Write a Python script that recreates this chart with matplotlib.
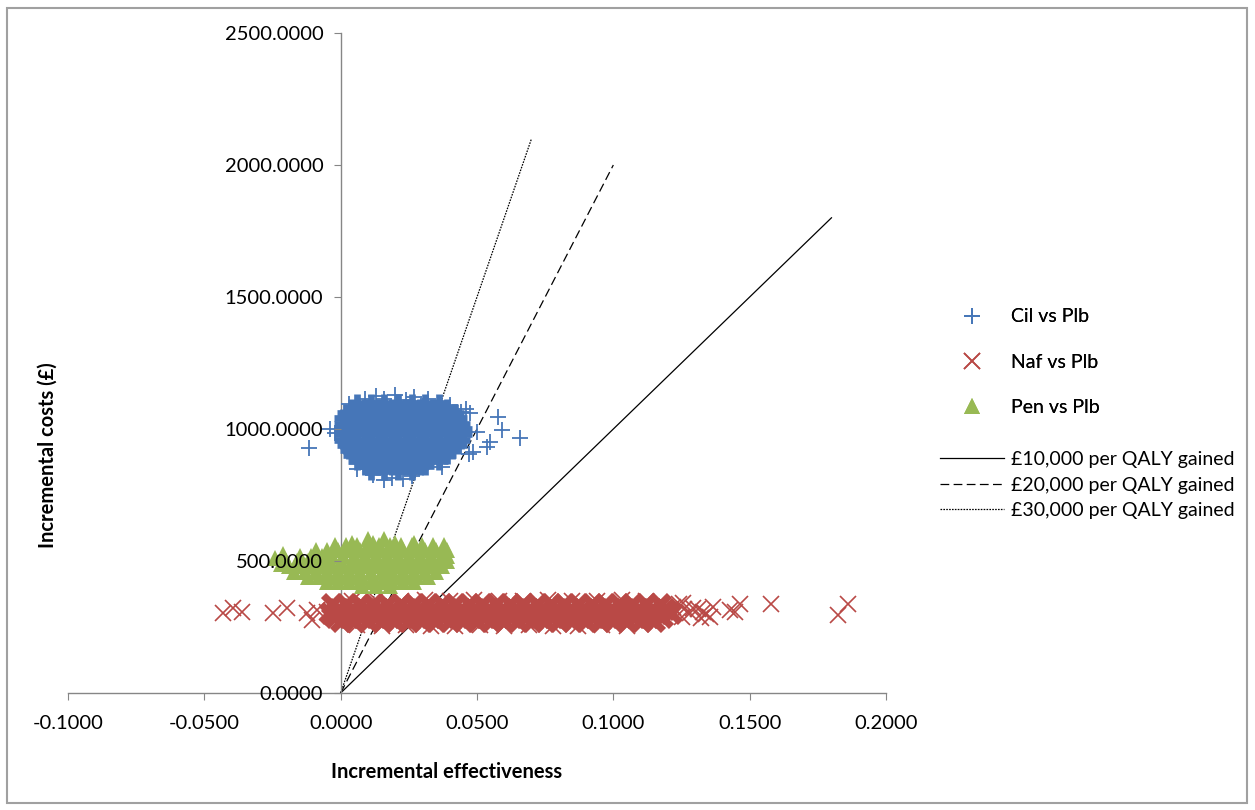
import matplotlib
matplotlib.use("Agg")
import matplotlib.pyplot as plt
from matplotlib.patches import Rectangle
from matplotlib.ticker import FormatStrFormatter

plt.rcParams['font.family'] = ['Lato', 'DejaVu Sans']

# ---- data read off the cost-effectiveness plane ----
# dense cores are given as rows: (incremental cost, [incremental effectiveness ...])
# Cil vs Plb
cil_rows = [
    (1100, [0.006, 0.011, 0.016, 0.021, 0.026, 0.031, 0.036]),
    (1080, [0.004, 0.009, 0.014, 0.019, 0.024, 0.029, 0.034, 0.039]),
    (1060, [0.002, 0.007, 0.012, 0.017, 0.022, 0.027, 0.032, 0.037, 0.042]),
    (1040, [0.001, 0.005, 0.010, 0.015, 0.020, 0.025, 0.030, 0.035, 0.040, 0.043]),
    (1020, [0.001, 0.006, 0.011, 0.016, 0.021, 0.026, 0.031, 0.036, 0.041, 0.044]),
    (1000, [0.001, 0.004, 0.009, 0.014, 0.019, 0.024, 0.029, 0.034, 0.039, 0.045]),
    (980, [0.001, 0.006, 0.011, 0.016, 0.021, 0.026, 0.031, 0.036, 0.041, 0.045]),
    (960, [0.001, 0.004, 0.009, 0.014, 0.019, 0.024, 0.029, 0.034, 0.039, 0.044]),
    (940, [0.002, 0.006, 0.011, 0.016, 0.021, 0.026, 0.031, 0.036, 0.041, 0.043]),
    (920, [0.003, 0.008, 0.013, 0.018, 0.023, 0.028, 0.033, 0.038, 0.041]),
    (900, [0.004, 0.010, 0.015, 0.020, 0.025, 0.030, 0.035, 0.039]),
    (880, [0.006, 0.011, 0.016, 0.021, 0.026, 0.031, 0.036]),
    (860, [0.009, 0.014, 0.019, 0.024, 0.029, 0.031]),
    (840, [0.011, 0.016, 0.021, 0.026]),
]
# scattered edge points and outliers
cil_edge_x = [0.013, 0.020, 0.027, 0.009, 0.016, 0.024, 0.032, 0.012, 0.019,
              0.026, 0.016, 0.023, -0.0117, -0.004, -0.002, 0.0657, 0.0576,
              0.059, 0.0547, 0.0535, 0.0484, 0.0473, 0.050, 0.047, 0.046,
              0.003, 0.040, 0.044, 0.006, 0.037]
cil_edge_y = [1125, 1130, 1122, 1112, 1115, 1110, 1112, 825, 815, 822, 808,
              812, 928, 1000, 985, 966, 1045, 996, 951, 932, 913, 1060, 990,
              905, 1075, 1095, 1090, 1065, 850, 855]

# Naf vs Plb
naf_rows = [
    (336, [-0.003, 0.002, 0.007, 0.012, 0.017, 0.022, 0.027, 0.032, 0.037, 0.042,
           0.047, 0.052, 0.057, 0.062, 0.067, 0.072, 0.077, 0.082, 0.087, 0.092,
           0.097, 0.102, 0.107, 0.112, 0.117]),
    (320, [-0.001, 0.004, 0.009, 0.014, 0.019, 0.024, 0.029, 0.034, 0.039, 0.044,
           0.049, 0.054, 0.059, 0.064, 0.069, 0.074, 0.079, 0.084, 0.089, 0.094,
           0.099, 0.104, 0.109, 0.114, 0.119]),
    (304, [-0.004, 0.001, 0.006, 0.011, 0.016, 0.021, 0.026, 0.031, 0.036, 0.041,
           0.046, 0.051, 0.056, 0.061, 0.066, 0.071, 0.076, 0.081, 0.086, 0.091,
           0.096, 0.101, 0.106, 0.111, 0.116, 0.121]),
    (288, [-0.002, 0.003, 0.008, 0.013, 0.018, 0.023, 0.028, 0.033, 0.038, 0.043,
           0.048, 0.053, 0.058, 0.063, 0.068, 0.073, 0.078, 0.083, 0.088, 0.093,
           0.098, 0.103, 0.108, 0.113, 0.118]),
    (272, [0.000, 0.005, 0.010, 0.015, 0.020, 0.025, 0.030, 0.035, 0.040, 0.045,
           0.050, 0.055, 0.060, 0.065, 0.070, 0.075, 0.080, 0.085, 0.090, 0.095,
           0.100, 0.105, 0.110, 0.115]),
]
naf_edge_x = [0.004, 0.013, 0.022, 0.031, 0.040, 0.049, 0.058, 0.067, 0.076,
              0.085, 0.094, 0.103, 0.112, 0.006, 0.015, 0.024, 0.033, 0.042,
              0.051, 0.060, 0.069, 0.078, 0.087, 0.096, 0.105, 0.124, 0.126,
              0.131, 0.122, 0.128, 0.134, 0.125, 0.132,
              -0.0433, -0.0396, -0.0363, -0.0249, -0.0198, -0.0125, -0.0106,
              -0.0088, -0.0051, -0.0029, 0.1218, 0.1255, 0.1291, 0.1328, 0.1354,
              0.1365, 0.1427, 0.1445, 0.1464, 0.1577, 0.1823, 0.1860]
naf_edge_y = [350, 352, 348, 351, 349, 353, 350, 348, 352, 350, 349, 351, 348,
              256, 254, 257, 253, 255, 256, 254, 257, 255, 253, 256, 255, 336,
              318, 320, 304, 302, 300, 286, 284,
              303, 322, 307, 303, 322, 303, 277, 314, 307, 288, 326, 341, 322,
              307, 288, 326, 314, 307, 337, 337, 295, 337]

# Pen vs Plb
pen_rows = [
    (585, [0.010, 0.016]),
    (570, [0.004, 0.012, 0.020, 0.027]),
    (560, [-0.002, 0.002, 0.006, 0.010, 0.014, 0.018, 0.022, 0.026, 0.030, 0.034,
           0.038]),
    (540, [-0.009, -0.005, -0.001, 0.003, 0.007, 0.011, 0.015, 0.019, 0.023,
           0.027, 0.031, 0.035, 0.039]),
    (520, [-0.015, -0.011, -0.007, -0.003, 0.001, 0.005, 0.009, 0.013, 0.017,
           0.021, 0.025, 0.029, 0.033, 0.037, 0.039]),
    (500, [-0.020, -0.016, -0.012, -0.008, -0.004, 0.000, 0.004, 0.008, 0.012,
           0.016, 0.020, 0.024, 0.028, 0.032, 0.036, 0.039]),
    (480, [-0.019, -0.015, -0.011, -0.007, -0.003, 0.001, 0.005, 0.009, 0.013,
           0.017, 0.021, 0.025, 0.029, 0.033, 0.037]),
    (460, [-0.017, -0.013, -0.009, -0.005, -0.001, 0.003, 0.007, 0.011, 0.015,
           0.019, 0.023, 0.027, 0.031, 0.035]),
    (440, [-0.012, -0.008, -0.004, 0.000, 0.004, 0.008, 0.012, 0.016, 0.020,
           0.024, 0.028, 0.032]),
    (420, [-0.005, -0.001, 0.003, 0.007, 0.011, 0.015, 0.019, 0.023, 0.027]),
    (405, [0.008, 0.013, 0.018]),
]
pen_edge_x = [-0.024, -0.021, -0.022]
pen_edge_y = [510, 525, 490]

# willingness-to-pay lines: end point (effectiveness, cost)
wtp_labels = ['£10,000 per QALY gained', '£20,000 per QALY gained',
              '£30,000 per QALY gained']
wtp_end_x = [0.18, 0.10, 0.07]
wtp_end_y = [1800, 2000, 2100]
wtp_styles = ['-', (0, (7, 3.5)), (0, (1.3, 1))]

x_ticks = [-0.1, -0.05, 0.0, 0.05, 0.1, 0.15, 0.2]
y_ticks = [0, 500, 1000, 1500, 2000, 2500]


def flatten(rows):
    xs, ys = [], []
    for y, row in rows:
        xs += row
        ys += [y] * len(row)
    return xs, ys


cil_x, cil_y = flatten(cil_rows)
naf_x, naf_y = flatten(naf_rows)
pen_x, pen_y = flatten(pen_rows)

BLUE = '#4676B8'
RED = '#B94946'
GREEN = '#98B954'

fig = plt.figure(figsize=(12.55, 8.10), dpi=100)
ax = fig.add_axes([68 / 1255, 117 / 810, 818 / 1255, 660 / 810])

# threshold lines sit underneath the clouds
line_handles = []
for ex, ey, ls, lab in zip(wtp_end_x, wtp_end_y, wtp_styles, wtp_labels):
    h, = ax.plot([0, ex], [0, ey], color='black', lw=0.9, linestyle=ls,
                 label=lab, zorder=1.5)
    line_handles.append(h)

# clouds: dense core drawn heavy, edge points drawn thin
ax.plot(cil_x, cil_y, '+', color=BLUE, ms=13, mew=4.8, zorder=2.6)
h_cil, = ax.plot(cil_edge_x, cil_edge_y, '+', color=BLUE, ms=12, mew=1.3,
                 zorder=2.6, label='Cil vs Plb')
ax.plot(naf_x, naf_y, 'x', color=RED, ms=13, mew=5.2, zorder=2.6)
h_naf, = ax.plot(naf_edge_x, naf_edge_y, 'x', color=RED, ms=11, mew=1.2,
                 zorder=2.6, label='Naf vs Plb')
ax.plot(pen_x, pen_y, '^', color=GREEN, ms=12, mew=0, zorder=2.6)
h_pen, = ax.plot(pen_edge_x, pen_edge_y, '^', color=GREEN, ms=12, mew=0,
                 zorder=2.6, label='Pen vs Plb')

ax.set_xlim(-0.1, 0.2)
ax.set_ylim(0, 2500)
ax.set_xticks(x_ticks)
ax.set_yticks(y_ticks)
ax.xaxis.set_major_formatter(FormatStrFormatter('%.4f'))
ax.yaxis.set_major_formatter(FormatStrFormatter('%.4f'))

ax.spines['left'].set_position(('data', 0))
ax.spines['bottom'].set_position(('data', 0))
ax.spines['top'].set_visible(False)
ax.spines['right'].set_visible(False)
for s in ('left', 'bottom'):
    ax.spines[s].set_color('#868686')
    ax.spines[s].set_linewidth(1.0)
ax.xaxis.set_zorder(3)
ax.yaxis.set_zorder(3)
ax.tick_params(direction='out', length=5, color='#868686', labelsize=14.5,
               labelcolor='black')
ax.tick_params(axis='x', pad=11)
ax.tick_params(axis='y', pad=7.5)

ax.set_xlabel('Incremental effectiveness', fontsize=14.5, fontweight='bold')
ax.xaxis.set_label_coords(0.463, -0.104)
ax.set_ylabel('Incremental costs (£)', fontsize=14.5, fontweight='bold')
ax.yaxis.set_label_coords(-0.013, 0.36)

leg1 = fig.legend(handles=[h_cil, h_naf, h_pen], loc='center left',
                  bbox_to_anchor=(940 / 1255, 1 - 362 / 810), frameon=False,
                  fontsize=14, handlelength=3.3, labelspacing=1.45,
                  handletextpad=0.35, borderpad=0, borderaxespad=0)
fig.legend(handles=line_handles, loc='center left',
           bbox_to_anchor=(940 / 1255, 1 - 485 / 810), frameon=False,
           fontsize=14, handlelength=3.3, labelspacing=0.45,
           handletextpad=0.35, borderpad=0, borderaxespad=0)
fig.add_artist(leg1)

fig.patches.append(Rectangle((7 / 1255, 7 / 810), 1240 / 1255, 795 / 810,
                             transform=fig.transFigure, fill=False,
                             edgecolor='#A0A0A0', lw=1.5))

fig.savefig('out.png', dpi=100)
